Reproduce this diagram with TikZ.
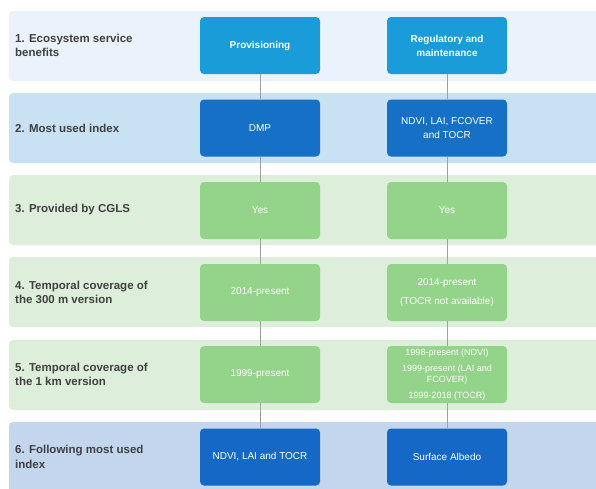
\documentclass[tikz,border=0pt]{standalone}
\usepackage{fontspec}
\setmainfont{Liberation Sans}
\begin{document}
\begin{tikzpicture}[x=1pt,y=-1pt,
  band/.style={rounded corners=4pt, draw=none},
  rowlabel/.style={anchor=west, align=left, inner sep=0pt, font=\fontsize{11.5}{14.5}\selectfont\bfseries, text=labelgray},
  cell/.style={rounded corners=4pt, minimum width=120pt, minimum height=57pt, align=center,
    text=white, font=\fontsize{10}{12.5}\selectfont, inner sep=1pt},
  link/.style={draw=linkgray, line width=0.8pt}]
\definecolor{labelgray}{HTML}{404040}
\definecolor{linkgray}{HTML}{A0A0A0}
\definecolor{bandA}{HTML}{EAF3FB}
\definecolor{bandB}{HTML}{C8E1F3}
\definecolor{bandG}{HTML}{DDEFDA}
\definecolor{bandF}{HTML}{C3D6EE}
\definecolor{boxA}{HTML}{199CD8}
\definecolor{boxB}{HTML}{1670C5}
\definecolor{boxG}{HTML}{94D38A}
\definecolor{boxF}{HTML}{1668C6}

\useasboundingbox (0,0) rectangle (596,488);
\fill[white] (0,0) rectangle (596,488);

\begin{scope}
\clip (0,0) rectangle (596,488);
% horizontal bands, one per row
\fill[band, bandA] (9,11) rectangle (610,81);
\fill[band, bandB] (9,93) rectangle (610,163);
\fill[band, bandG] (9,175) rectangle (610,245);
\fill[band, bandG] (9,257) rectangle (610,327);
\fill[band, bandG] (9,340) rectangle (610,410);
\fill[band, bandF] (9,422) rectangle (610,500);
\end{scope}

% row labels
\node[rowlabel] (l1) at (15,45.5) {1. Ecosystem service\\benefits};
\node[rowlabel] (l2) at (15,128) {2. Most used index};
\node[rowlabel] (l3) at (15,210) {3. Provided by CGLS};
\node[rowlabel] (l4) at (15,292.5) {4. Temporal coverage of\\the 300 m version};
\node[rowlabel] (l5) at (15,374.5) {5. Temporal coverage of\\the 1 km version};
\node[rowlabel] (l6) at (15,457) {6. Following most used\\index};

% left column
\node[cell, fill=boxA, font=\fontsize{10}{12.5}\selectfont\bfseries] (p1) at (260,45.5) {Provisioning};
\node[cell, fill=boxB] (p2) at (260,128) {DMP};
\node[cell, fill=boxG] (p3) at (260,210.5) {Yes};
\node[cell, fill=boxG] (p4) at (260,292.5) {2014-present};
\node[cell, fill=boxG] (p5) at (260,374.5) {1999-present};
\node[cell, fill=boxF] (p6) at (260,457) {NDVI, LAI and TOCR};

% right column
\node[cell, fill=boxA, font=\fontsize{10}{14}\selectfont\bfseries] (r1) at (447,45.5) {Regulatory and\\maintenance};
\node[cell, fill=boxB, font=\fontsize{10}{14}\selectfont] (r2) at (447,128) {NDVI, LAI, FCOVER\\and TOCR};
\node[cell, fill=boxG] (r3) at (447,210.5) {Yes};
\node[cell, fill=boxG, font=\fontsize{10}{19.5}\selectfont] (r4) at (447,292.5) {2014-present\\(TOCR not available)};
\node[cell, fill=boxG, font=\fontsize{9}{11.5}\selectfont] (r5) at (447,374.5)
  {1998-present (NDVI)\\[4pt]1999-present (LAI and\\FCOVER)\\[4pt]1999-2018 (TOCR)};
\node[cell, fill=boxF] (r6) at (447,457) {Surface Albedo};

% vertical links between consecutive rows
\foreach \a/\b in {p1/p2,p2/p3,p3/p4,p4/p5,p5/p6,r1/r2,r2/r3,r3/r4,r4/r5,r5/r6}
  \draw[link] (\a.south) -- (\b.north);
\end{tikzpicture}
\end{document}
